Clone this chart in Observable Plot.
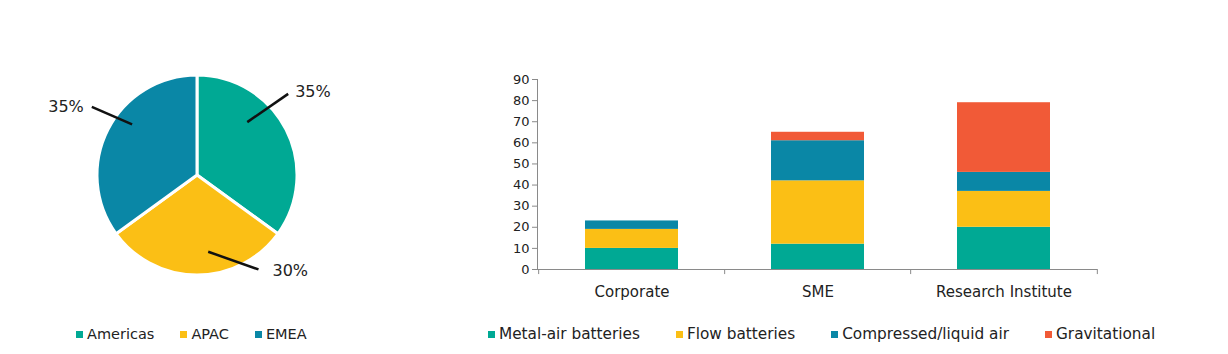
<!DOCTYPE html>
<html><head><meta charset="utf-8">
<script src="https://cdn.jsdelivr.net/npm/d3@7"></script>
<script src="https://cdn.jsdelivr.net/npm/@observablehq/plot@0.6"></script>
<style>
body{margin:0;background:#fff;font-family:"DejaVu Sans",Verdana,sans-serif;color:#222;}
#root{position:relative;width:1228px;height:354px;overflow:hidden;background:#fff;}
#pie{position:absolute;left:0;top:0;}
#bar{position:absolute;left:480px;top:60px;}
#bar svg line, #bar svg path{stroke:#8a8a8a;}
.legend{position:absolute;display:flex;align-items:center;color:#222;white-space:nowrap;height:20px;}
.legend .item{display:flex;align-items:center;}
.legend .sw{width:7px;height:7px;margin-right:4px;}
#pieLegend{left:76px;top:324px;gap:26px;font-size:14.5px;}
#barLegend{left:488px;top:324px;gap:36px;font-size:15.3px;}
</style></head><body>
<div id="root"><div id="pie"></div><div id="bar"></div><div id="pieLegend" class="legend"></div><div id="barLegend" class="legend"></div></div>
<script>
// ---- data ----
const regions = ["Americas", "APAC", "EMEA"];
const regionShares = [35, 30, 35];
const regionColors = ["#00a994", "#fbbf15", "#0a87a6"];

const orgTypes = ["Corporate", "SME", "Research Institute"];
const technologies = ["Metal-air batteries", "Flow batteries", "Compressed/liquid air", "Gravitational"];
const metalAir = [10, 12, 20];
const flowBatteries = [9, 30, 17];
const compressedAir = [4, 19, 9];
const gravitational = [0, 4, 33];
const techColors = ["#00a994", "#fbbf15", "#0a87a6", "#f15a37"];
const yTicks = [0, 10, 20, 30, 40, 50, 60, 70, 80, 90];

// ---- pie ----
const PW = 470, PH = 320, cx = 197, cy = 175, R = 100;
const pieInput = regions.map((r, i) => ({region: r, share: regionShares[i], color: regionColors[i]}));
const arcs = d3.pie().sort(null).value(d => d.share)(pieInput);
const arcGen = d3.arc().innerRadius(0).outerRadius(R);
// leader-line layout (angle offsets in degrees from slice mid-angle, radii as fraction of R)
const leaderLayout = {
  Americas: {a1: -20, r1: 0.73, a2: -15, r2: 1.22, dx: 7, dy: -2, anchor: "start"},
  APAC:     {a1: -8,  r1: 0.77, a2: -33, r2: 1.12, dx: 14, dy: 1, anchor: "start"},
  EMEA:     {a1: 11,  r1: 0.83, a2: 6,   r2: 1.26, dx: -8, dy: 0, anchor: "end"}
};
const rad = Math.PI / 180;
const pt = (ang, r) => [cx + r * Math.sin(ang), cy - r * Math.cos(ang)];
const labels = arcs.map(a => {
  const L = leaderLayout[a.data.region];
  const mid = (a.startAngle + a.endAngle) / 2;
  const p1 = pt(mid + L.a1 * rad, L.r1 * R);
  const p2 = pt(mid + L.a2 * rad, L.r2 * R);
  return {x1: p1[0], y1: p1[1], x2: p2[0], y2: p2[1], tx: p2[0] + L.dx, ty: p2[1] + L.dy,
          anchor: L.anchor, label: a.data.share + "%"};
});
function pieSlices() {
  const g = d3.create("svg:g").attr("transform", `translate(${cx},${cy})`);
  g.selectAll("path").data(arcs).join("path")
    .attr("d", arcGen)
    .attr("fill", d => d.data.color)
    .attr("stroke", "#fff")
    .attr("stroke-width", 3)
    .attr("stroke-linejoin", "round");
  return g.node();
}
const piePlot = Plot.plot({
  width: PW, height: PH, margin: 0,
  x: {type: "identity", axis: null},
  y: {type: "identity", axis: null},
  style: {fontFamily: "DejaVu Sans, Verdana, sans-serif", background: "transparent"},
  marks: [
    pieSlices,
    Plot.link(labels, {x1: "x1", y1: "y1", x2: "x2", y2: "y2", stroke: "#111", strokeWidth: 2.5}),
    Plot.text(labels.filter(d => d.anchor === "start"), {x: "tx", y: "ty", text: "label", textAnchor: "start", fontSize: 16, fill: "#222"}),
    Plot.text(labels.filter(d => d.anchor === "end"), {x: "tx", y: "ty", text: "label", textAnchor: "end", fontSize: 16, fill: "#222"})
  ]
});
document.getElementById("pie").appendChild(piePlot);

// ---- bars ----
const seriesValues = [metalAir, flowBatteries, compressedAir, gravitational];
const barData = technologies.flatMap((t, j) => orgTypes.map((o, i) => ({org: o, tech: t, value: seriesValues[j][i]})));
const BW = 640, BH = 250, mL = 57, mR = 23;
const step = (BW - mL - mR) / orgTypes.length;
const barPlot = Plot.plot({
  width: BW, height: BH, marginLeft: mL, marginRight: mR, marginTop: 19, marginBottom: 41,
  style: {fontFamily: "DejaVu Sans, Verdana, sans-serif", fontSize: "13px", color: "#222", background: "transparent"},
  x: {domain: orgTypes, paddingInner: 0.5, paddingOuter: 0.25, axis: null},
  y: {domain: [0, 90], ticks: yTicks, tickSize: 5, tickPadding: 3, label: null, line: true},
  color: {domain: technologies, range: techColors},
  marks: [
    Plot.barY(barData, {x: "org", y: "value", fill: "tech", order: technologies}),
    Plot.ruleY([0], {stroke: "#8a8a8a"}),
    Plot.ruleX(orgTypes, {x: d => d, dx: -step / 2, y1: 0, y2: -2.4, stroke: "#8a8a8a"}),
    Plot.ruleX(orgTypes.slice(-1), {x: d => d, dx: step / 2, y1: 0, y2: -2.4, stroke: "#8a8a8a"}),
    Plot.text(orgTypes, {x: d => d, y: 0, dy: 23, text: d => d, fontSize: 15, fill: "#222"})
  ]
});
document.getElementById("bar").appendChild(barPlot);

// ---- legends ----
function legend(id, names, colors) {
  const el = document.getElementById(id);
  names.forEach((n, i) => {
    const item = document.createElement("div");
    item.className = "item";
    const sw = document.createElement("span");
    sw.className = "sw";
    sw.style.background = colors[i];
    const t = document.createElement("span");
    t.textContent = n;
    item.appendChild(sw); item.appendChild(t);
    el.appendChild(item);
  });
}
legend("pieLegend", regions, regionColors);
legend("barLegend", technologies, techColors);
</script>
</body></html>
